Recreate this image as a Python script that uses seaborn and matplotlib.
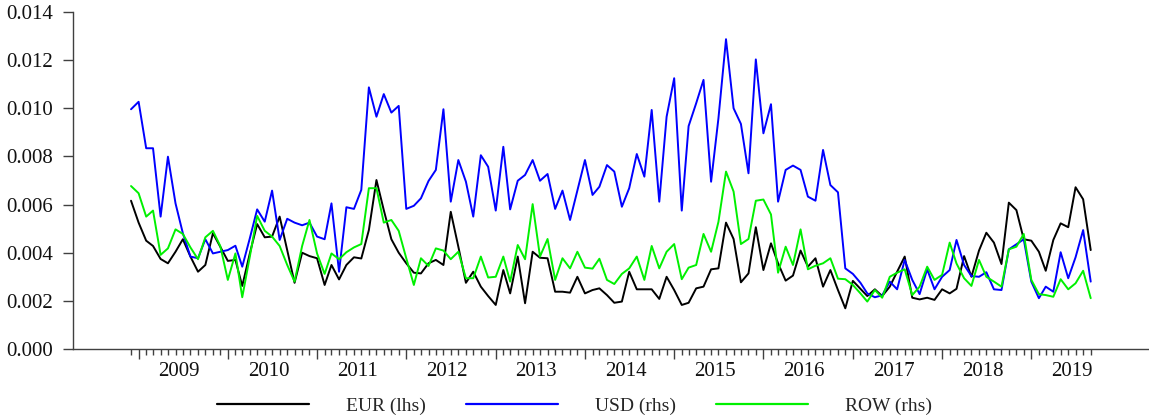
import pandas as pd
import matplotlib
matplotlib.use("Agg")
import matplotlib.pyplot as plt
import matplotlib.dates as mdates
from matplotlib.lines import Line2D
from matplotlib.ticker import FixedLocator, NullFormatter, FormatStrFormatter
import seaborn as sns

# Monthly observations, Dec 2008 - Sep 2019
dates = pd.date_range("2008-12-01", periods=130, freq="MS")

eur = [
    0.00616, 0.00525, 0.00450, 0.00428, 0.00374, 0.00356, 0.00404, 0.00456, 0.00384, 0.00321,
    0.00349, 0.00481, 0.00425, 0.00366, 0.00370, 0.00262, 0.00397, 0.00519, 0.00464, 0.00467,
    0.00550, 0.00411, 0.00275, 0.00400, 0.00386, 0.00377, 0.00266, 0.00349, 0.00289, 0.00349,
    0.00381, 0.00376, 0.00494, 0.00702, 0.00577, 0.00456, 0.00400, 0.00356, 0.00317, 0.00314,
    0.00356, 0.00370, 0.00349, 0.00570, 0.00425, 0.00275, 0.00321, 0.00259, 0.00220, 0.00183,
    0.00328, 0.00231, 0.00384, 0.00190, 0.00404, 0.00379, 0.00377, 0.00238, 0.00238, 0.00234,
    0.00300, 0.00231, 0.00245, 0.00252, 0.00224, 0.00192, 0.00197, 0.00321, 0.00248, 0.00248,
    0.00248, 0.00208, 0.00300, 0.00245, 0.00183, 0.00192, 0.00252, 0.00259, 0.00331, 0.00335,
    0.00525, 0.00457, 0.00277, 0.00314, 0.00506, 0.00328, 0.00439, 0.00356, 0.00284, 0.00305,
    0.00409, 0.00342, 0.00377, 0.00259, 0.00328, 0.00245, 0.00169, 0.00283, 0.00250, 0.00220,
    0.00248, 0.00220, 0.00259, 0.00321, 0.00384, 0.00213, 0.00206, 0.00213, 0.00204, 0.00248,
    0.00231, 0.00250, 0.00386, 0.00300, 0.00409, 0.00483, 0.00442, 0.00353, 0.00608, 0.00577,
    0.00456, 0.00450, 0.00404, 0.00325, 0.00453, 0.00522, 0.00506, 0.00672, 0.00622, 0.00411,
]

usd = [
    0.00996, 0.01027, 0.00834, 0.00834, 0.00550, 0.00799, 0.00605, 0.00481, 0.00384, 0.00377,
    0.00456, 0.00397, 0.00404, 0.00411, 0.00429, 0.00342, 0.00460, 0.00580, 0.00529, 0.00658,
    0.00453, 0.00541, 0.00525, 0.00514, 0.00525, 0.00467, 0.00456, 0.00605, 0.00321, 0.00589,
    0.00582, 0.00661, 0.01087, 0.00965, 0.01059, 0.00982, 0.01010, 0.00582, 0.00595, 0.00626,
    0.00698, 0.00744, 0.00996, 0.00612, 0.00785, 0.00695, 0.00550, 0.00805, 0.00757, 0.00575,
    0.00840, 0.00580, 0.00699, 0.00723, 0.00785, 0.00699, 0.00727, 0.00582, 0.00658, 0.00536,
    0.00658, 0.00785, 0.00640, 0.00674, 0.00764, 0.00737, 0.00591, 0.00668, 0.00810, 0.00716,
    0.00993, 0.00612, 0.00965, 0.01125, 0.00575, 0.00926, 0.01021, 0.01118, 0.00695, 0.00958,
    0.01287, 0.01000, 0.00935, 0.00730, 0.01203, 0.00896, 0.01017, 0.00612, 0.00744, 0.00762,
    0.00744, 0.00633, 0.00616, 0.00827, 0.00681, 0.00651, 0.00335, 0.00312, 0.00275, 0.00231,
    0.00215, 0.00223, 0.00280, 0.00248, 0.00370, 0.00287, 0.00228, 0.00331, 0.00248, 0.00300,
    0.00328, 0.00453, 0.00349, 0.00303, 0.00300, 0.00319, 0.00248, 0.00245, 0.00414, 0.00435,
    0.00456, 0.00280, 0.00211, 0.00259, 0.00238, 0.00402, 0.00294, 0.00381, 0.00494, 0.00280,
]

row = [
    0.00677, 0.00647, 0.00550, 0.00575, 0.00391, 0.00418, 0.00497, 0.00478, 0.00422, 0.00373,
    0.00464, 0.00491, 0.00428, 0.00287, 0.00397, 0.00215, 0.00384, 0.00553, 0.00491, 0.00467,
    0.00428, 0.00349, 0.00280, 0.00428, 0.00536, 0.00397, 0.00312, 0.00397, 0.00373, 0.00402,
    0.00422, 0.00436, 0.00668, 0.00668, 0.00525, 0.00536, 0.00491, 0.00377, 0.00266, 0.00377,
    0.00345, 0.00418, 0.00409, 0.00373, 0.00404, 0.00294, 0.00294, 0.00384, 0.00297, 0.00300,
    0.00384, 0.00280, 0.00432, 0.00373, 0.00602, 0.00384, 0.00457, 0.00287, 0.00377, 0.00335,
    0.00404, 0.00338, 0.00334, 0.00375, 0.00287, 0.00270, 0.00312, 0.00335, 0.00384, 0.00287,
    0.00428, 0.00335, 0.00404, 0.00436, 0.00290, 0.00338, 0.00349, 0.00478, 0.00404, 0.00528,
    0.00737, 0.00654, 0.00436, 0.00457, 0.00616, 0.00621, 0.00559, 0.00317, 0.00425, 0.00349,
    0.00497, 0.00331, 0.00346, 0.00356, 0.00377, 0.00292, 0.00290, 0.00266, 0.00231, 0.00197,
    0.00245, 0.00213, 0.00300, 0.00317, 0.00331, 0.00224, 0.00259, 0.00342, 0.00287, 0.00308,
    0.00442, 0.00355, 0.00294, 0.00262, 0.00370, 0.00300, 0.00280, 0.00259, 0.00414, 0.00425,
    0.00478, 0.00287, 0.00228, 0.00224, 0.00217, 0.00290, 0.00248, 0.00273, 0.00325, 0.00211,
]

series_names = ["EUR (lhs)", "USD (rhs)", "ROW (rhs)"]
series_colors = ["#000000", "#0000ff", "#00f000"]
years = list(range(2009, 2020))
y_ticks = [0.000, 0.002, 0.004, 0.006, 0.008, 0.010, 0.012, 0.014]

wide = pd.DataFrame({"date": dates, series_names[0]: eur,
                     series_names[1]: usd, series_names[2]: row})
df = wide.melt(id_vars="date", var_name="series", value_name="value")

sns.set_theme(style="white")
plt.rcParams["font.family"] = ["Liberation Serif", "DejaVu Serif"]

W, H = 1149, 419
fig = plt.figure(figsize=(W / 100, H / 100), dpi=100)
ax = fig.add_axes([73 / W, 70 / H, 1075 / W, 337 / H])

palette = dict(zip(series_names, series_colors))
sns.lineplot(data=df, x="date", y="value", hue="series", hue_order=series_names,
             palette=palette, linewidth=1.4, ax=ax, legend=False)

# x axis: monthly minor ticks, long ticks at each January, year labels mid-year
month_num = mdates.date2num(dates)
step = (month_num[-1] - month_num[0]) / (len(dates) - 1)
ax.set_xlim(month_num[0] - 7.8 * step, month_num[-1] + 7.7 * step)
jan = mdates.date2num([pd.Timestamp(f"{y}-01-01") for y in years])
ax.xaxis.set_major_locator(FixedLocator(jan))
ax.xaxis.set_major_formatter(NullFormatter())
ax.xaxis.set_minor_locator(FixedLocator(month_num))
ax.xaxis.set_minor_formatter(NullFormatter())
ax.tick_params(axis="x", which="major", direction="out", length=7.5, width=1,
               color="#404040", bottom=True)
ax.tick_params(axis="x", which="minor", direction="out", length=4.3, width=1,
               color="#404040", bottom=True)

mid = mdates.date2num([pd.Timestamp(f"{y}-06-16") for y in years])
sec = ax.secondary_xaxis("bottom")
sec.set_xticks(mid)
sec.set_xticklabels([str(y) for y in years])
sec.tick_params(length=0, pad=9, labelsize=15, labelcolor="#111111")
sec.spines["bottom"].set_visible(False)

# y axis
ax.set_ylim(0, 0.014)
ax.set_yticks(y_ticks)
ax.yaxis.set_major_formatter(FormatStrFormatter("%.3f"))
ax.tick_params(axis="y", which="major", direction="out", length=7.5, width=1,
               color="#404040", left=True, pad=7, labelsize=15, labelcolor="#111111")
ax.set_xlabel("")
ax.set_ylabel("")

for side in ("top", "right"):
    ax.spines[side].set_visible(False)
for side in ("left", "bottom"):
    ax.spines[side].set_color("#404040")
    ax.spines[side].set_linewidth(1)

handles = [Line2D([], [], color=c, linewidth=1.6) for c in series_colors]
fig.legend(handles, series_names, loc="center", bbox_to_anchor=(0.5, 0.031),
           ncol=3, frameon=False, fontsize=14, handlelength=4.7, handletextpad=1.9,
           columnspacing=2.1)

fig.savefig("out.png", dpi=100)
